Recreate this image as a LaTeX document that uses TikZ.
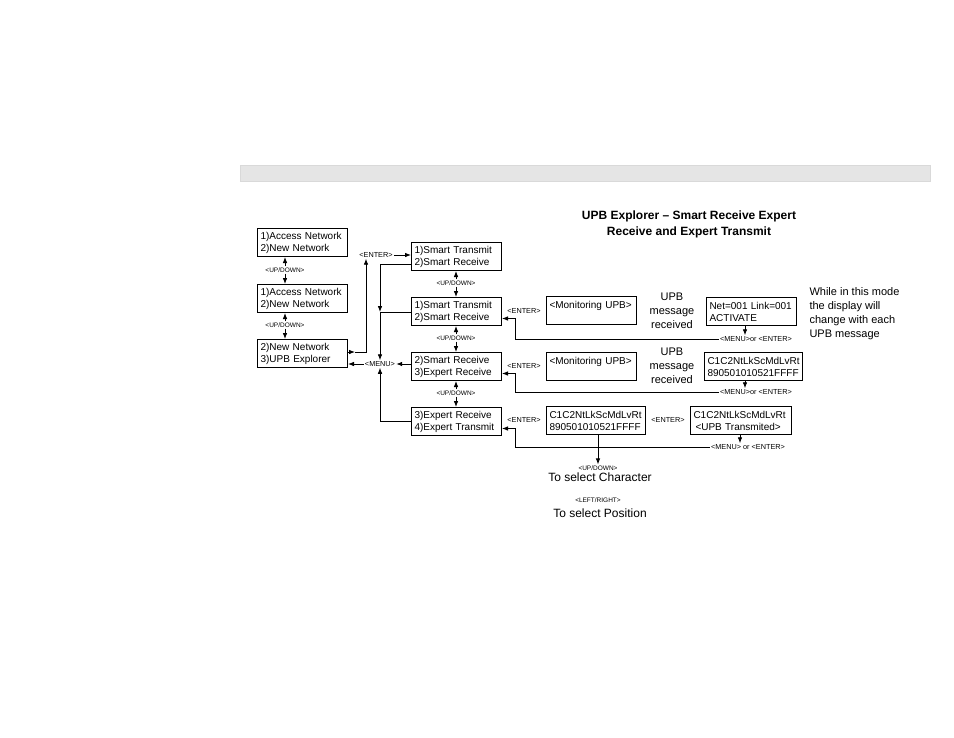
\documentclass[tikz,border=0pt]{standalone}
\usepackage{fontspec}
\setmainfont{Liberation Sans}
\usetikzlibrary{arrows.meta,calc}
\begin{document}
\begin{tikzpicture}[x=1pt,y=-1pt,
  box/.style={draw,line width=1pt,anchor=north west,minimum height=28pt,
    inner xsep=3pt,inner ysep=2pt,align=left,text width=#1,
    font=\fontsize{10}{12}\selectfont},
  tiny/.style={font=\fontsize{6.5}{8}\selectfont,inner sep=1pt},
  lbl/.style={font=\fontsize{7.3}{8}\selectfont,inner sep=1pt},
  arr/.style={-{Latex[length=6pt,width=4.6pt]},line width=0.9pt},
  ln/.style={line width=0.9pt}]
\useasboundingbox (0,0) rectangle (954,737);
% grey band
\fill[gray!20,draw=gray!30] (240,165) rectangle (930,181);
% title
\node[font=\bfseries\fontsize{12}{16}\selectfont,align=center] (title) at (689,224)
  {UPB Explorer – Smart Receive Expert\\Receive and Expert Transmit};
% left column
\node[box=84pt] (A1) at (257,228) {1)Access Network\\2)New Network};
\node[box=84pt] (A2) at (257,284) {1)Access Network\\2)New Network};
\node[box=84pt] (A3) at (257,339) {2)New Network\\3)UPB Explorer};
\node[tiny] (ud1) at (285,270) {<UP/DOWN>};
\node[tiny] (ud2) at (285,325) {<UP/DOWN>};
\draw[arr] (ud1.north) -- (ud1.north |- A1.south);
\draw[arr] (ud1.south) -- (ud1.south |- A2.north);
\draw[arr] (ud2.north) -- (ud2.north |- A2.south);
\draw[arr] (ud2.south) -- (ud2.south |- A3.north);
% second column
\node[box=84pt] (B1) at (411,242) {1)Smart Transmit\\2)Smart Receive};
\node[box=84pt] (B2) at (411,297) {1)Smart Transmit\\2)Smart Receive};
\node[box=84pt] (B3) at (411,352) {2)Smart Receive\\3)Expert Receive};
\node[box=84pt] (B4) at (411,407) {3)Expert Receive\\4)Expert Transmit};
\node[tiny] (ud4) at (456,283) {<UP/DOWN>};
\node[tiny] (ud5) at (456,338) {<UP/DOWN>};
\node[tiny] (ud6) at (456,393) {<UP/DOWN>};
\draw[arr] (ud4.north) -- (ud4.north |- B1.south);
\draw[arr] (ud4.south) -- (ud4.south |- B2.north);
\draw[arr] (ud5.north) -- (ud5.north |- B2.south);
\draw[arr] (ud5.south) -- (ud5.south |- B3.north);
\draw[arr] (ud6.north) -- (ud6.north |- B3.south);
\draw[arr] (ud6.south) -- (ud6.south |- B4.north);
% enter / menu connections
\node[lbl] (enter1) at (376,255) {<ENTER>};
\node[lbl] (menu) at (380,364) {<MENU>};
\coordinate (a3o) at (355,352);
\draw[arr] (A3.east |- a3o) -- (a3o);
\draw[arr] (a3o) -| ([xshift=-10pt]enter1.south);
\draw[arr] (enter1.east) -- (enter1.east -| B1.west);
\coordinate (j1) at (380,264);
\coordinate (j2) at (380,312);
\draw[ln] (B1.west |- j1) -- (j1);
\draw[arr] (j1) -- (j2);
\draw[ln] (B2.west |- j2) -- (j2);
\draw[arr] (j2) -- (menu.north);
\draw[arr] (B3.west |- menu) -- (menu.east);
\draw[arr] (menu.west) -- (menu -| A3.east);
\draw[arr] (B4.west |- 0,421) -| (menu.south);
% smart receive row
\node[lbl] (en2) at (524,311) {<ENTER>};
\node[box=84pt] (M1) at (546,296) {<Monitoring UPB>\\~};
\node[font=\fontsize{11}{14}\selectfont,align=center] (rx1) at (672,311) {UPB\\message\\received};
\node[box=84pt] (N1) at (706,297) {Net=001 Link=001\\ACTIVATE};
\node[lbl] (mo1) at (756,339) {<MENU>or <ENTER>};
\draw[arr] (N1.south -| 745,0) -- (745,0 |- mo1.north);
\draw[arr] (mo1.west) -| ([xshift=13pt,yshift=-7pt]B2.east) -- ([yshift=-7pt]B2.east);
\node[font=\fontsize{11}{14}\selectfont,align=left,anchor=west] (note) at (806,314)
  {While in this mode\\the display will\\change with each\\UPB message};
% expert receive row
\node[lbl] (en3) at (524,366) {<ENTER>};
\node[box=84pt] (M2) at (546,352) {<Monitoring UPB>\\~};
\node[font=\fontsize{11}{14}\selectfont,align=center] (rx2) at (672,366) {UPB\\message\\received};
\node[box=92pt] (N2) at (704,352) {C1C2NtLkScMdLvRt\\890501010521FFFF};
\node[lbl] (mo2) at (756,392) {<MENU>or <ENTER>};
\draw[arr] (N2.south -| 745,0) -- (745,0 |- mo2.north);
\draw[arr] (mo2.west) -| ([xshift=13pt,yshift=-7pt]B3.east) -- ([yshift=-7pt]B3.east);
% expert transmit row
\node[lbl] (en4) at (524,420) {<ENTER>};
\node[box=93pt] (P1) at (546,406) {C1C2NtLkScMdLvRt\\890501010521FFFF};
\node[lbl] (en5) at (668,420) {<ENTER>};
\node[box=95pt] (P2) at (690,406) {C1C2NtLkScMdLvRt\\\hspace*{2pt}<UPB Transmited>};
\node[lbl] (mo3) at (748,447) {<MENU> or <ENTER>};
\draw[arr] (P2.south -| 740,0) -- (740,0 |- mo3.north);
\draw[arr] (mo3.west) -| ([xshift=13pt,yshift=-7pt]B4.east) -- ([yshift=-7pt]B4.east);
% selection notes
\node[tiny] (ud7) at (598,468) {<UP/DOWN>};
\node[font=\fontsize{12}{14}\selectfont,inner sep=1pt] (selc) at (600,477) {To select Character};
\node[tiny] (lr) at (598,500) {<LEFT/RIGHT>};
\node[font=\fontsize{12}{14}\selectfont,inner sep=1pt] (selp) at (600,513) {To select Position};
\draw[arr] (P1.south -| ud7) -- (ud7.north);
\end{tikzpicture}
\end{document}
